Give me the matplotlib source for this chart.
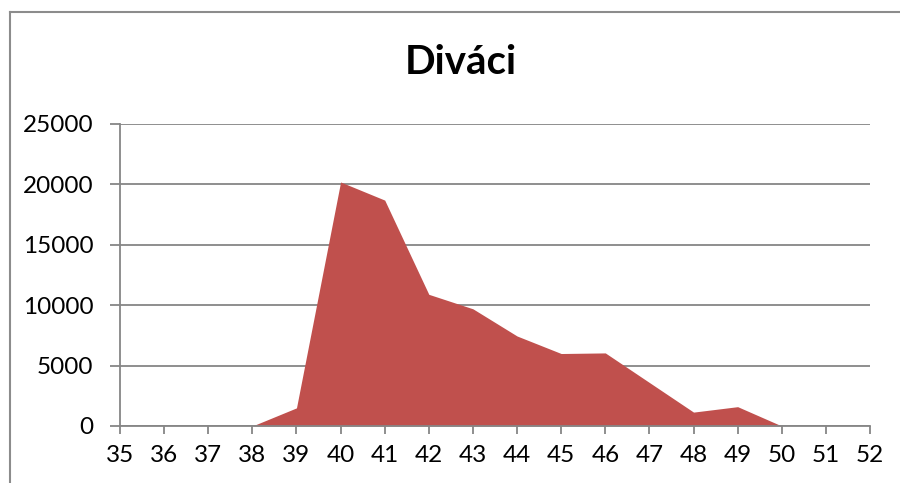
import matplotlib
matplotlib.use('Agg')
import matplotlib.pyplot as plt
from matplotlib.lines import Line2D

# data
years = [35, 36, 37, 38, 39, 40, 41, 42, 43, 44, 45, 46, 47, 48, 49, 50, 51, 52]
divaci = [None, None, None, 0, 1500, 20200, 18700, 10900, 9700, 7450, 6000, 6050, 3600, 1150, 1600, 0, None, None]
y_ticks = [0, 5000, 10000, 15000, 20000, 25000]

plt.rcParams['font.family'] = ['Lato', 'DejaVu Sans']

fig = plt.figure(figsize=(9, 4.83), dpi=100)
ax = fig.add_axes([120 / 900, 1 - 426 / 483, 750 / 900, 302 / 483])

xs = [x for x, v in zip(years, divaci) if v is not None]
vs = [v for v in divaci if v is not None]
ax.fill_between(xs, vs, 0, color='#C0504D', linewidth=0, zorder=3)

ax.set_xlim(years[0], years[-1])
ax.set_ylim(0, 25000)
ax.set_xticks(years)
ax.set_yticks(y_ticks)

grid_col = '#868686'
ax.grid(axis='y', color=grid_col, linewidth=1.3, zorder=1)
for s in ['top', 'right']:
    ax.spines[s].set_visible(False)
for s in ['left', 'bottom']:
    ax.spines[s].set_color(grid_col)
    ax.spines[s].set_linewidth(1.3)
    ax.spines[s].set_zorder(4)
ax.tick_params(axis='x', length=6, width=1.3, color=grid_col, pad=8, labelsize=17.5)
ax.tick_params(axis='y', length=7, width=1.3, color=grid_col, pad=12, labelsize=17.5)

fig.text(461 / 900, 1 - 62 / 483, 'Diváci', ha='center', va='center',
         fontsize=29, fontweight='bold')

# chart border (only top and left visible in the crop)
fig.add_artist(Line2D([9.5 / 900, 1], [1 - 11.5 / 483] * 2, transform=fig.transFigure,
                      color='#8c8c8c', linewidth=1.5))
fig.add_artist(Line2D([9.5 / 900] * 2, [0, 1 - 11.5 / 483], transform=fig.transFigure,
                      color='#8c8c8c', linewidth=1.5))

fig.savefig('out.png', dpi=100)
